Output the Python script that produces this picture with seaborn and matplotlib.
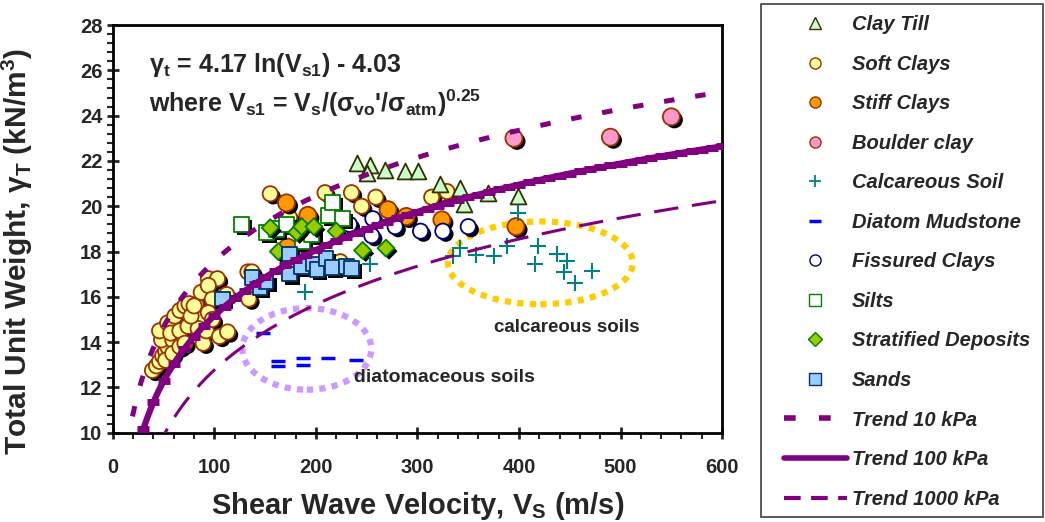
import numpy as np
import matplotlib
matplotlib.use("Agg")
import matplotlib.pyplot as plt
import matplotlib.patheffects as pe
from matplotlib.patches import Ellipse, Rectangle
from matplotlib.lines import Line2D
from matplotlib.ticker import MultipleLocator
import seaborn as sns

# ---- data (Vs in m/s, unit weight in kN/m3) ----
clay_till_vs = [240, 253, 268, 288, 301, 250, 322, 342, 346, 369, 399]
clay_till_g = [21.9, 21.8, 21.6, 21.55, 21.55, 21.45, 21.0, 20.8, 20.1, 20.6, 20.45]

soft_vs = [39, 43, 46, 49, 52, 54, 48, 46, 54, 61, 66, 71, 75, 82, 87, 94, 103, 94,
           59, 57, 66, 74, 85, 84, 89, 92, 98, 105, 113, 112, 133, 134, 52, 59, 66, 71,
           77, 80, 94, 98, 137, 155, 209, 235, 245, 259, 174, 224, 314, 329]
soft_g = [12.75, 12.95, 13.15, 13.4, 13.6, 13.8, 14.1, 14.5, 14.85, 15.15, 15.4, 15.6,
          15.7, 15.65, 16.2, 16.8, 16.8, 16.5, 14.1, 14.4, 14.5, 14.7, 15.0, 14.6, 13.95,
          14.5, 15.9, 14.25, 14.45, 16.1, 17.1, 15.9, 13.2, 13.5, 13.8, 13.95, 15.15, 15.6,
          15.3, 15.0, 17.1, 20.55, 20.6, 20.6, 20.0, 20.4, 19.5, 17.55, 20.4, 20.65]

stiff_vs = [171, 192, 172, 271, 289, 324, 397]
stiff_g = [20.15, 19.6, 18.2, 19.85, 19.55, 19.4, 19.1]

boulder_vs = [395, 490, 550]
boulder_g = [23.0, 23.05, 23.95]

calc_vs = [189, 253, 335, 342, 358, 375, 388, 399, 419, 416, 437, 447, 444, 455, 472]
calc_g = [16.2, 17.45, 17.8, 18.15, 17.85, 17.8, 18.25, 19.7, 18.25, 17.45, 17.9,
          17.6, 17.1, 16.6, 17.15]

diatom_vs = [148, 163, 163, 187, 187, 212, 239]
diatom_g = [14.4, 13.15, 12.95, 13.3, 13.0, 13.3, 13.2]

fissured_vs = [233, 256, 255, 278, 303, 325, 350]
fissured_g = [19.2, 19.45, 18.7, 19.1, 18.9, 18.9, 19.1]

silts_vs = [127, 151, 161, 171, 187, 196, 212, 216, 226]
silts_g = [19.2, 18.85, 19.0, 19.2, 18.45, 18.75, 19.6, 20.15, 19.45]

strat_vs = [155, 163, 181, 186, 198, 220, 246, 269]
strat_g = [19.05, 18.0, 18.85, 19.1, 19.1, 18.9, 18.05, 18.15]

sands_vs = [108, 137, 145, 151, 174, 174, 186, 197, 201, 210, 216, 230, 235]
sands_g = [15.9, 16.85, 16.4, 16.65, 17.9, 17.0, 17.35, 17.45, 17.2, 17.7, 17.3, 17.35, 17.25]

# trend: gamma_t = 4.17 ln(Vs1) - 4.03, Vs1 = Vs / (sigma'/sigma_atm)^0.25
coef_a, coef_b = 4.17, -4.03
stresses = [10, 100, 1000]
trend_labels = ["Trend 10 kPa", "Trend 100 kPa", "Trend 1000 kPa"]


def trend(vs, sigma):
    return coef_a * np.log(vs / (sigma / 100.0) ** 0.25) + coef_b


sns.set_style("ticks")
plt.rcParams["font.family"] = ["Liberation Sans", "DejaVu Sans"]
plt.rcParams["font.weight"] = "bold"
plt.rcParams["axes.labelweight"] = "bold"
plt.rcParams["mathtext.fontset"] = "custom"
plt.rcParams["mathtext.rm"] = "Liberation Sans:bold"
plt.rcParams["mathtext.it"] = "Liberation Sans:bold"
plt.rcParams["mathtext.bf"] = "Liberation Sans:bold"
plt.rcParams["mathtext.default"] = "rm"

purple = "#800080"
shadow = [pe.SimplePatchShadow(offset=(2.2, -2.2), shadow_rgbFace="black", alpha=1.0), pe.Normal()]

fig, ax = plt.subplots(figsize=(10.45, 5.22), dpi=100)
fig.subplots_adjust(left=0.108, right=0.691, bottom=0.171, top=0.952)

# ellipses around soil groups
ax.add_patch(Ellipse((191, 13.7), 127, 3.6, fill=False, ec="#CC99FF", lw=4.5,
                     ls=(0, (1, 1)), zorder=1))
ax.add_patch(Ellipse((421, 17.5), 182, 3.65, fill=False, ec="#FFCC00", lw=4.5,
                     ls=(0, (1, 1)), zorder=1))

groups = [
    (soft_vs, soft_g, "o", 120, "#FFFF99", "#993300", True),
    (stiff_vs, stiff_g, "o", 150, "#FF9900", "#993300", True),
    (boulder_vs, boulder_g, "o", 150, "#FF99CC", "#993300", True),
    (clay_till_vs, clay_till_g, "^", 130, "#CCFFCC", "#333300", False),
    (fissured_vs, fissured_g, "o", 120, "white", "#000080", True),
    (silts_vs, silts_g, "s", 120, "white", "#008000", True),
    (strat_vs, strat_g, "D", 75, "#99CC00", "#008000", True),
    (sands_vs, sands_g, "s", 110, "#99CCFF", "#003366", True),
]
for vs, g, mk, size, fc, ec, shade in groups:
    sns.scatterplot(x=vs, y=g, marker=mk, s=size, color=fc, edgecolor=ec, linewidth=1.3,
                    ax=ax, zorder=3, legend=False,
                    path_effects=shadow if shade else None)

sns.scatterplot(x=calc_vs, y=calc_g, marker="+", s=140, color="#008080", linewidth=1.5,
                ax=ax, zorder=3, legend=False)
sns.scatterplot(x=diatom_vs, y=diatom_g, marker="_", s=90, color="#0000FF", linewidth=2.5,
                ax=ax, zorder=3, legend=False)

# trend lines
vs_line = np.linspace(10, 600, 400)
vs_mark = np.arange(20, 601, 10)
sns.lineplot(x=vs_line, y=trend(vs_line, 10), color=purple, lw=3.6, ax=ax, zorder=4)
ax.lines[-1].set_dashes([2.1, 4.2])
ax.lines[-1].set_dash_capstyle("butt")
sns.lineplot(x=vs_line, y=trend(vs_line, 100), color=purple, lw=4.5, ax=ax, zorder=4)
ax.plot(vs_mark, trend(vs_mark, 100), ls="none", marker="_", ms=8, mew=5, color=purple, zorder=4)
sns.lineplot(x=vs_line, y=trend(vs_line, 1000), color=purple, lw=2.2, ax=ax, zorder=4)
ax.lines[-1].set_dashes([8, 4.5])
ax.lines[-1].set_dash_capstyle("butt")

ax.set_xlim(0, 600)
ax.set_ylim(10, 28)
ax.xaxis.set_major_locator(MultipleLocator(100))
ax.xaxis.set_minor_locator(MultipleLocator(20))
ax.yaxis.set_major_locator(MultipleLocator(2))
ax.yaxis.set_minor_locator(MultipleLocator(0.4))
ax.tick_params(which="major", direction="inout", length=9, width=2, labelsize=14.5, pad=3)
ax.tick_params(axis="x", which="major", pad=14)
ax.tick_params(which="minor", direction="out", length=4, width=1.5)
for sp in ax.spines.values():
    sp.set_linewidth(2)
    sp.set_color("black")

ax.set_xlabel("Shear Wave Velocity, V$_S$ (m/s)", fontsize=21, labelpad=9)
ax.set_ylabel(r"Total Unit Weight, $\gamma_T$ (kN/m$^3$)", fontsize=21.5)
ax.yaxis.set_label_coords(-0.128, 0.445)

ax.text(36, 26.24, r"$\gamma_t$ = 4.17 ln(V$_{s1}$) - 4.03", fontsize=18, va="center")
ax.text(36, 24.56, r"where V$_{s1}$ = V$_s$/($\sigma_{vo}$'/$\sigma_{atm}$)$^{0.25}$",
        fontsize=18, va="center")
ax.text(447, 14.65, "calcareous soils", fontsize=13.5, ha="center", va="center")
ax.text(327, 12.45, "diatomaceous soils", fontsize=14, ha="center", va="center")

# legend in a separate box at the right
fig.add_artist(Rectangle((761 / 1045, 5 / 522), 282 / 1045, 513 / 522,
                         transform=fig.transFigure, fill=False, ec="#404040", lw=1.2))
handles = [
    Line2D([], [], ls="none", marker="^", ms=8, mfc="#CCFFCC", mec="#333300", label="Clay Till"),
    Line2D([], [], ls="none", marker="o", ms=8, mfc="#FFFF99", mec="#993300", label="Soft Clays"),
    Line2D([], [], ls="none", marker="o", ms=8, mfc="#FF9900", mec="#993300", label="Stiff Clays"),
    Line2D([], [], ls="none", marker="o", ms=8, mfc="#FF99CC", mec="#993300", label="Boulder clay"),
    Line2D([], [], ls="none", marker="+", ms=9, mew=1.3, color="#008080", label="Calcareous Soil"),
    Line2D([], [], ls="none", marker="_", ms=8, mew=2.5, color="#0000FF", label="Diatom Mudstone"),
    Line2D([], [], ls="none", marker="o", ms=8, mfc="white", mec="#000080", label="Fissured Clays"),
    Line2D([], [], ls="none", marker="s", ms=8, mfc="white", mec="#008000", label="Silts"),
    Line2D([], [], ls="none", marker="D", ms=7, mfc="#99CC00", mec="#008000", label="Stratified Deposits"),
    Line2D([], [], ls="none", marker="s", ms=8, mfc="#99CCFF", mec="#003366", label="Sands"),
    Line2D([], [], color=purple, lw=4, dashes=[2.1, 4.2], label=trend_labels[0]),
    Line2D([], [], color=purple, lw=4, solid_capstyle="round", label=trend_labels[1]),
    Line2D([], [], color=purple, lw=3, dashes=[4, 2.5], label=trend_labels[2]),
]
fig.legend(handles=handles, loc="upper left", bbox_to_anchor=(770 / 1045, 1 - 1 / 522),
           frameon=False, prop={"weight": "bold", "style": "italic", "size": 14.5},
           handlelength=3.1, handletextpad=0.25, labelspacing=1.02, borderpad=0.2)

fig.savefig("out.png", dpi=100)
